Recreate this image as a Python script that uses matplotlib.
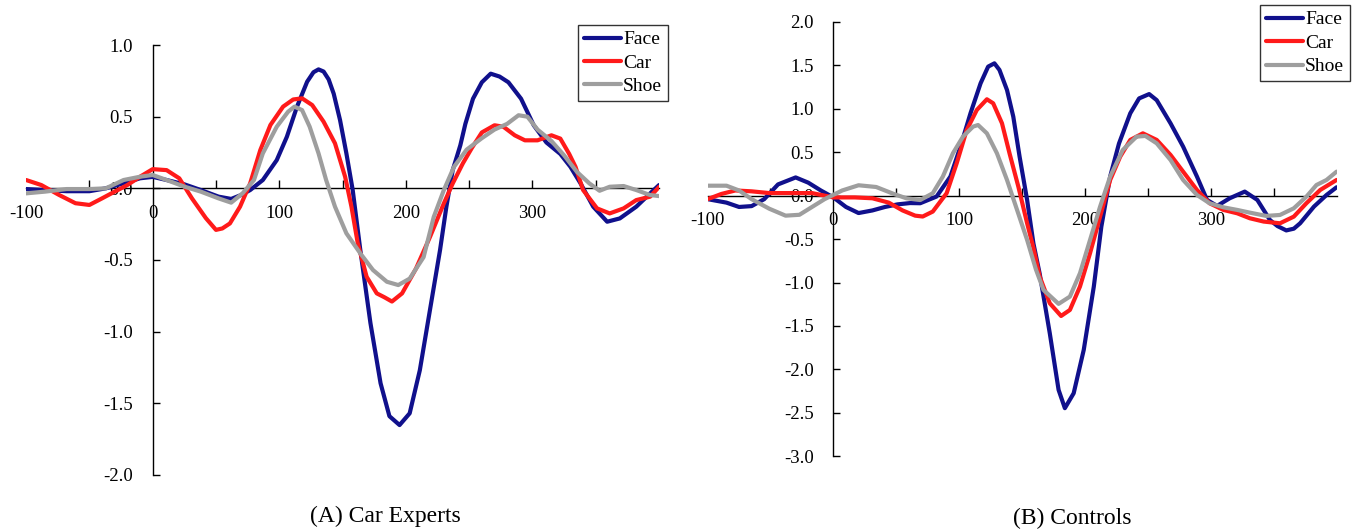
import matplotlib.pyplot as plt
from matplotlib.ticker import MultipleLocator, FixedLocator

# ---- (A) Car Experts ----
a_face_t = [-100, -85, -68, -50, -37, -23, -10, 0, 11, 25, 38, 52, 62, 70, 77, 87, 98, 106, 114, 122,
            127, 131, 135, 139, 143, 148, 153, 158, 164, 172, 180, 187, 195, 203, 211, 219, 227, 232,
            237, 243, 247, 253, 260, 267, 274, 281, 291, 301, 311, 322, 330, 338, 348, 359, 369, 382,
            393, 400]
a_face_v = [-0.005, -0.012, -0.02, -0.02, 0.0, 0.035, 0.07, 0.08, 0.058, 0.028, -0.012, -0.058, -0.074,
            -0.046, -0.012, 0.058, 0.197, 0.36, 0.57, 0.744, 0.81, 0.83, 0.815, 0.76, 0.66, 0.476,
            0.244, -0.012, -0.43, -0.94, -1.36, -1.59, -1.652, -1.57, -1.27, -0.85, -0.43, -0.128,
            0.127, 0.3, 0.45, 0.625, 0.74, 0.8, 0.78, 0.74, 0.625, 0.44, 0.32, 0.24, 0.15, 0.034,
            -0.128, -0.233, -0.21, -0.128, -0.035, 0.023]

a_car_t = [-100, -88, -74, -61, -50, -40, -30, -20, -10, 0, 11, 21, 31, 42, 50, 55, 61, 69, 77, 85, 93,
           103, 111, 118, 126, 135, 144, 152, 157, 162, 169, 177, 183, 189, 197, 208, 219, 230, 237,
           245, 252, 260, 270, 277, 286, 294, 304, 315, 322, 329, 334, 340, 351, 361, 372, 382, 393,
           400]
a_car_v = [0.058, 0.023, -0.046, -0.104, -0.116, -0.07, -0.023, 0.023, 0.081, 0.134, 0.127, 0.07,
           -0.07, -0.208, -0.29, -0.28, -0.245, -0.128, 0.035, 0.267, 0.442, 0.57, 0.62, 0.628, 0.581,
           0.465, 0.314, 0.081, -0.128, -0.384, -0.617, -0.733, -0.76, -0.79, -0.733, -0.56, -0.34,
           -0.105, 0.034, 0.174, 0.28, 0.39, 0.44, 0.43, 0.37, 0.335, 0.335, 0.37, 0.347, 0.24, 0.15,
           -0.012, -0.14, -0.175, -0.14, -0.082, -0.058, 0.01]

a_shoe_t = [-100, -85, -68, -50, -37, -23, -10, 0, 11, 25, 38, 52, 62, 71, 80, 87, 98, 107, 112, 118,
            124, 131, 137, 144, 153, 164, 174, 185, 194, 203, 214, 222, 230, 238, 248, 260, 270, 280,
            289, 296, 304, 315, 325, 335, 345, 353, 361, 372, 382, 393, 400]
a_shoe_v = [-0.035, -0.023, -0.005, -0.005, 0.0, 0.058, 0.081, 0.093, 0.058, 0.012, -0.023, -0.07,
            -0.1, -0.035, 0.058, 0.244, 0.43, 0.535, 0.57, 0.546, 0.43, 0.244, 0.058, -0.128, -0.314,
            -0.454, -0.57, -0.652, -0.675, -0.63, -0.48, -0.2, -0.012, 0.15, 0.27, 0.35, 0.41, 0.45,
            0.51, 0.5, 0.41, 0.33, 0.23, 0.116, 0.034, -0.017, 0.011, 0.016, -0.012, -0.047, -0.054]

# ---- (B) Controls ----
b_face_t = [-100, -85, -75, -65, -55, -44, -30, -20, -10, 0, 10, 20, 31, 41, 51, 61, 69, 82, 93, 101,
            109, 117, 123, 128, 132, 138, 143, 148, 154, 159, 164, 172, 179, 184, 191, 199, 207, 213,
            220, 227, 236, 243, 251, 257, 268, 278, 289, 297, 305, 315, 327, 337, 347, 353, 360, 366,
            371, 382, 392, 400]
b_face_v = [-0.04, -0.08, -0.13, -0.12, -0.04, 0.13, 0.21, 0.15, 0.06, -0.02, -0.13, -0.2, -0.17,
            -0.13, -0.1, -0.085, -0.087, -0.01, 0.22, 0.565, 0.95, 1.294, 1.486, 1.524, 1.448, 1.217,
            0.91, 0.45, -0.05, -0.55, -0.9, -1.584, -2.236, -2.447, -2.275, -1.776, -1.047, -0.356,
            0.22, 0.6, 0.949, 1.12, 1.17, 1.1, 0.833, 0.565, 0.22, -0.049, -0.118, -0.03, 0.047,
            -0.049, -0.28, -0.35, -0.4, -0.38, -0.318, -0.126, 0.008, 0.097]

b_car_t = [-100, -89, -78, -65, -51, -34, -17, 0, 17, 31, 44, 55, 65, 71, 79, 90, 98, 106, 114, 122,
           127, 134, 140, 147, 154, 159, 164, 172, 181, 188, 196, 204, 212, 220, 228, 236, 246, 257,
           268, 278, 289, 299, 310, 321, 331, 342, 355, 366, 376, 387, 400]
b_car_v = [-0.04, 0.02, 0.06, 0.05, 0.03, 0.03, 0.03, -0.02, -0.02, -0.03, -0.08, -0.17, -0.23, -0.24,
           -0.183, 0.028, 0.373, 0.757, 0.987, 1.11, 1.064, 0.834, 0.488, 0.105, -0.318, -0.6, -0.932,
           -1.239, -1.385, -1.316, -1.047, -0.663, -0.241, 0.181, 0.45, 0.642, 0.718, 0.642, 0.469,
           0.277, 0.066, -0.087, -0.164, -0.203, -0.26, -0.298, -0.318, -0.241, -0.087, 0.066, 0.181]

b_shoe_t = [-100, -85, -75, -65, -51, -38, -27, -17, -7, 7, 20, 34, 48, 58, 69, 79, 87, 95, 103, 111,
            115, 122, 130, 138, 146, 154, 161, 167, 179, 188, 196, 204, 212, 220, 230, 241, 248, 257,
            268, 278, 289, 299, 310, 321, 331, 344, 355, 366, 376, 384, 392, 400]
b_shoe_v = [0.115, 0.115, 0.06, -0.04, -0.15, -0.23, -0.22, -0.13, -0.04, 0.06, 0.12, 0.1, 0.02, -0.03,
            -0.05, 0.028, 0.22, 0.488, 0.68, 0.795, 0.814, 0.718, 0.488, 0.181, -0.164, -0.51, -0.85,
            -1.085, -1.246, -1.162, -0.893, -0.51, -0.126, 0.22, 0.526, 0.68, 0.688, 0.603, 0.411,
            0.181, 0.008, -0.087, -0.134, -0.164, -0.195, -0.233, -0.222, -0.145, -0.011, 0.123,
            0.181, 0.277]

labels = ['Face', 'Car', 'Shoe']
colors = ['#10108c', '#ff1a1a', '#9e9e9e']
captions = ['(A) Car Experts', '(B) Controls']

plt.rcParams['font.family'] = ['Liberation Serif', 'DejaVu Serif']
plt.rcParams['axes.unicode_minus'] = False

fig = plt.figure(figsize=(13.58, 5.31), dpi=100)
ax_a = fig.add_axes([0.01922, 0.1056, 0.4661, 0.8096])
ax_b = fig.add_axes([0.52106, 0.14087, 0.46318, 0.8177])


def style_axis(ax, ylo, yhi):
    ax.set_xlim(-100, 400)
    ax.set_ylim(ylo, yhi)
    ax.spines['left'].set_position(('data', 0))
    ax.spines['bottom'].set_position(('data', 0))
    ax.spines['top'].set_visible(False)
    ax.spines['right'].set_visible(False)
    for s in ['left', 'bottom']:
        ax.spines[s].set_linewidth(1.0)
        ax.spines[s].set_zorder(1)
    ax.xaxis.set_major_locator(FixedLocator([-100, 0, 100, 200, 300]))
    ax.xaxis.set_minor_locator(FixedLocator([-50, 50, 150, 250, 350]))
    ax.yaxis.set_major_locator(MultipleLocator(0.5))
    ax.yaxis.set_major_formatter(plt.FuncFormatter(lambda v, p: '%.1f' % v))
    ax.tick_params(axis='x', which='both', direction='in', length=6, width=1.0,
                   labelsize=13.5, pad=12)
    ax.tick_params(axis='y', direction='in', length=5, width=1.0, labelsize=13.5, pad=14)
    # the tick at 0 on the x axis coincides with the y axis
    ax.xaxis.get_major_ticks()[1].tick1line.set_visible(False)
    ax.xaxis.get_major_ticks()[0].tick1line.set_visible(False)


panels = [
    (ax_a, [(a_face_t, a_face_v), (a_car_t, a_car_v), (a_shoe_t, a_shoe_v)], -2.0, 1.0,
     (0.4919, 0.953)),
    (ax_b, [(b_face_t, b_face_v), (b_car_t, b_car_v), (b_shoe_t, b_shoe_v)], -3.0, 2.0,
     (0.994, 0.9906)),
]

for ax, series, ylo, yhi, anchor in panels:
    style_axis(ax, ylo, yhi)
    for (t, v), lab, c in zip(series, labels, colors):
        ax.plot(t, v, color=c, lw=3.0, label=lab, solid_joinstyle='round',
                solid_capstyle='round', zorder=3)
    leg = fig.legend(*ax.get_legend_handles_labels(), loc='upper right', bbox_to_anchor=anchor,
                     fontsize=14, frameon=True, fancybox=False, handlelength=1.9,
                     handletextpad=0.1, borderpad=0.3, labelspacing=0.3, borderaxespad=0.0)
    leg.get_frame().set_edgecolor('black')
    leg.get_frame().set_linewidth(1.0)

fig.text(385 / 1358, 1 - 516 / 531, captions[0], ha='center', va='center', fontsize=17)
fig.text(1072 / 1358, 1 - 518 / 531, captions[1], ha='center', va='center', fontsize=17)

fig.savefig('out.png', dpi=100)
